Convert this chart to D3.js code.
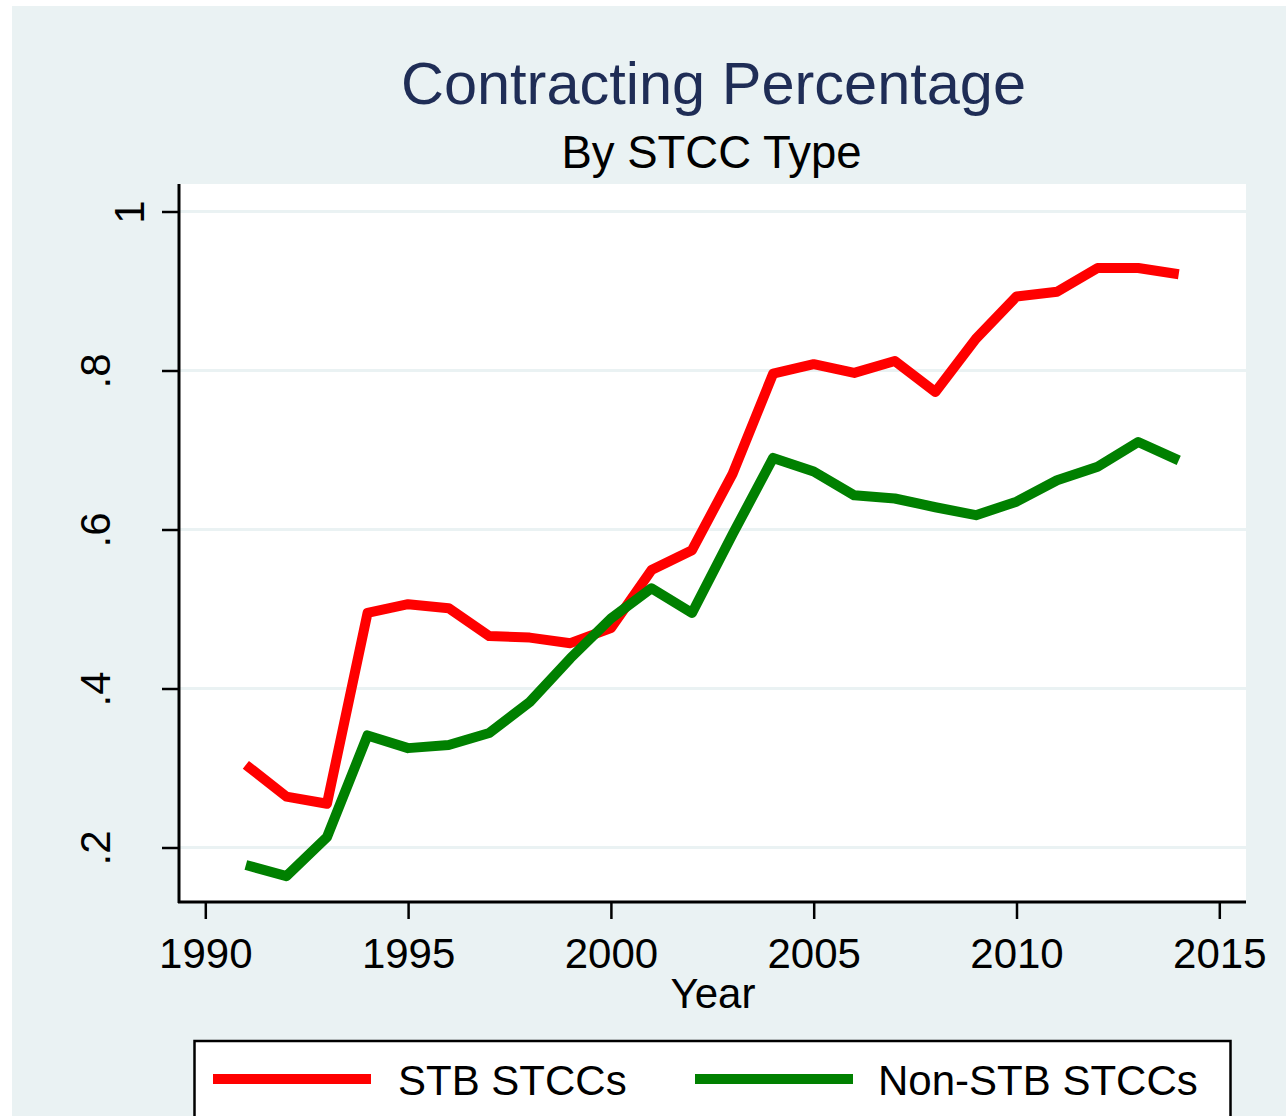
<!DOCTYPE html>
<html>
<head>
<meta charset="utf-8">
<script src="https://cdn.jsdelivr.net/npm/d3@7/dist/d3.min.js"></script>
<style>
  html, body { margin: 0; padding: 0; background: #ffffff; }
  svg { display: block; font-family: "Liberation Sans", Arial, sans-serif; }
</style>
</head>
<body>
<svg id="chart" width="1286" height="1116"></svg>
<script>
const years = [1991,1992,1993,1994,1995,1996,1997,1998,1999,2000,2001,2002,2003,2004,2005,2006,2007,2008,2009,2010,2011,2012,2013,2014];
const stbValues = [0.304,0.264,0.255,0.495,0.506,0.501,0.466,0.464,0.457,0.476,0.549,0.574,0.670,0.796,0.808,0.797,0.812,0.773,0.840,0.893,0.899,0.929,0.929,0.921];
const nonStbValues = [0.178,0.164,0.213,0.341,0.325,0.329,0.344,0.383,0.438,0.488,0.526,0.495,0.594,0.690,0.673,0.643,0.639,0.628,0.618,0.635,0.662,0.679,0.710,0.687];
const xTicks = [1990,1995,2000,2005,2010,2015];
const yTicks = [0.2,0.4,0.6,0.8,1];
const yTickLabels = [".2",".4",".6",".8","1"];
const seriesNames = ["STB STCCs","Non-STB STCCs"];
const seriesColors = ["#ff0000","#008000"];
const titleText = "Contracting Percentage";
const subtitleText = "By STCC Type";
const xTitle = "Year";

const svg = d3.select("#chart");
const W = 1286, H = 1116;
const bg = "#eaf2f3";

// outer background
svg.append("rect").attr("x",12).attr("y",6).attr("width",W-12).attr("height",H-6).attr("fill",bg);

// plot region
const plot = {left:179, top:184, right:1246, bottom:902};
svg.append("rect").attr("x",plot.left).attr("y",plot.top)
  .attr("width",plot.right-plot.left).attr("height",plot.bottom-plot.top).attr("fill","#ffffff");

const x = d3.scaleLinear().domain([1990,2015]).range([205.3,1219.3]);
const y = d3.scaleLinear().domain([0.2,1]).range([847.5,211.5]);

// gridlines
svg.append("g").selectAll("line").data(yTicks).join("line")
  .attr("x1",plot.left).attr("x2",plot.right)
  .attr("y1",d=>y(d)).attr("y2",d=>y(d))
  .attr("stroke",bg).attr("stroke-width",3);

// lines
const line = d3.line().x((d,i)=>x(years[i])).y(d=>y(d));
[stbValues, nonStbValues].forEach((vals,k)=>{
  svg.append("path").datum(vals).attr("d",line)
    .attr("fill","none").attr("stroke",seriesColors[k]).attr("stroke-width",10)
    .attr("stroke-linejoin","round").attr("stroke-linecap","butt");
});

// y axis
const yAxis = d3.axisLeft(y).tickValues(yTicks).tickSize(17).tickSizeOuter(0)
  .tickFormat((d,i)=>yTickLabels[i]);
const gy = svg.append("g").attr("transform",`translate(${plot.left},0)`).call(yAxis);
gy.select(".domain").remove();
gy.selectAll(".tick line").attr("stroke","#000").attr("stroke-width",2.5);
gy.selectAll(".tick text")
  .attr("transform","rotate(-90)")
  .attr("text-anchor","middle")
  .attr("x",0).attr("dy",0)
  .attr("y",(d,i)=> yTickLabels[i].length===1 ? -35 : -69)
  .attr("fill","#000").style("font-size","42px")
  .style("font-family","'Liberation Sans', Arial, sans-serif");

// x axis
const xAxis = d3.axisBottom(x).tickValues(xTicks).tickSize(17).tickSizeOuter(0).tickFormat(d3.format("d"));
const gx = svg.append("g").attr("transform",`translate(0,${plot.bottom})`).call(xAxis);
gx.select(".domain").remove();
gx.selectAll(".tick line").attr("stroke","#000").attr("stroke-width",2.5);
gx.selectAll(".tick text").attr("y",66).attr("dy",0).attr("fill","#000")
  .style("font-size","42px").style("font-family","'Liberation Sans', Arial, sans-serif");

// axis lines
svg.append("line").attr("x1",plot.left).attr("x2",plot.left).attr("y1",plot.top).attr("y2",plot.bottom+1)
  .attr("stroke","#000").attr("stroke-width",3);
svg.append("line").attr("x1",plot.left-1).attr("x2",plot.right).attr("y1",plot.bottom).attr("y2",plot.bottom)
  .attr("stroke","#000").attr("stroke-width",3);

// titles
svg.append("text").attr("x",713.5).attr("y",104).attr("text-anchor","middle")
  .attr("fill","#1f2d56").style("font-size","59.5px").text(titleText);
svg.append("text").attr("x",711.5).attr("y",167.5).attr("text-anchor","middle")
  .attr("fill","#000").style("font-size","45.5px").text(subtitleText);
svg.append("text").attr("x",713).attr("y",1008).attr("text-anchor","middle")
  .attr("fill","#000").style("font-size","42px").text(xTitle);

// legend
svg.append("rect").attr("x",194.5).attr("y",1041).attr("width",1036).attr("height",100)
  .attr("fill","#fff").attr("stroke","#000").attr("stroke-width",2.5);
const legendItems = [{x1:213,x2:371,tx:398},{x1:695,x2:853,tx:878}];
legendItems.forEach((it,k)=>{
  svg.append("line").attr("x1",it.x1).attr("x2",it.x2).attr("y1",1079).attr("y2",1079)
    .attr("stroke",seriesColors[k]).attr("stroke-width",10);
  svg.append("text").attr("x",it.tx).attr("y",1095).attr("fill","#000")
    .style("font-size","42px").text(seriesNames[k]);
});
</script>
</body>
</html>
